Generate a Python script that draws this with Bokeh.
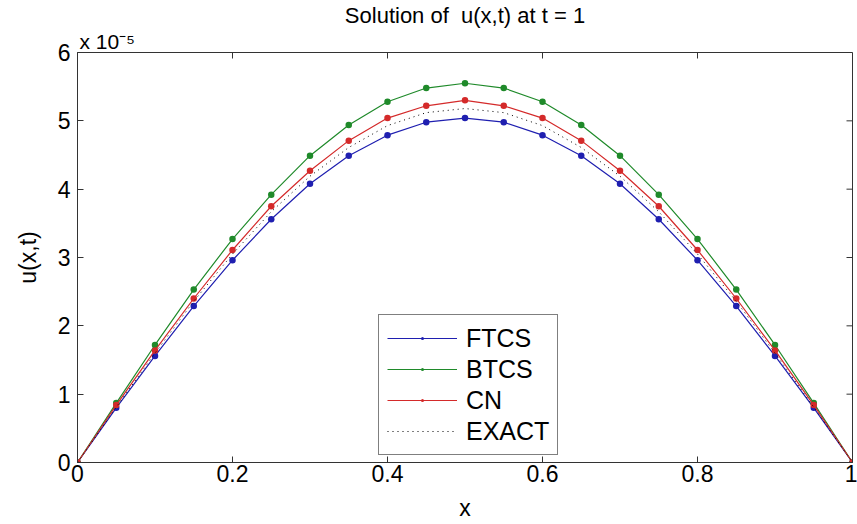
import math
from bokeh.plotting import figure
from bokeh.models import (Range1d, FixedTicker, Legend, LegendItem, Title)
from bokeh.embed import file_html
from bokeh.resources import INLINE

# x positions and solutions (values in units of 1e-5)
x_vals = [0.0, 0.05, 0.1, 0.15, 0.2, 0.25, 0.3, 0.35, 0.4, 0.45, 0.5,
          0.55, 0.6, 0.65, 0.7, 0.75, 0.8, 0.85, 0.9, 0.95, 1.0]
ftcs = [0.0, 0.80, 1.56, 2.29, 2.96, 3.56, 4.08, 4.49, 4.79, 4.98, 5.04,
        4.98, 4.79, 4.49, 4.08, 3.56, 2.96, 2.29, 1.56, 0.80, 0.0]
btcs = [0.0, 0.87, 1.72, 2.53, 3.27, 3.92, 4.49, 4.94, 5.28, 5.48, 5.55,
        5.48, 5.28, 4.94, 4.49, 3.92, 3.27, 2.53, 1.72, 0.87, 0.0]
cn = [0.0, 0.84, 1.64, 2.40, 3.11, 3.75, 4.27, 4.71, 5.04, 5.22, 5.30,
      5.22, 5.04, 4.71, 4.27, 3.75, 3.11, 2.40, 1.64, 0.84, 0.0]
exact = [0.0, 0.81, 1.60, 2.36, 3.05, 3.67, 4.19, 4.61, 4.93, 5.12, 5.18,
         5.12, 4.93, 4.61, 4.19, 3.67, 3.05, 2.36, 1.60, 0.81, 0.0]
x_ticks = [0, 0.2, 0.4, 0.6, 0.8, 1]
y_ticks = [0, 1, 2, 3, 4, 5, 6]
X_MIN, X_MAX, Y_MIN, Y_MAX = 0, 1, 0, 6

FONT = "Liberation Sans"
AX = "#333333"

p = figure(width=857, height=524, output_backend="svg", toolbar_location=None,
           x_range=Range1d(X_MIN, X_MAX), y_range=Range1d(Y_MIN, Y_MAX),
           min_border_left=77, min_border_right=5, min_border_top=46,
           min_border_bottom=62, title="Solution of\u00a0 u(x,t) at t = 1")
p.background_fill_color = "white"
p.border_fill_color = "white"
p.outline_line_color = AX
p.xgrid.visible = False
p.ygrid.visible = False

p.title.align = "center"
p.title.text_font = FONT
p.title.text_font_size = "22px"
p.title.text_font_style = "normal"
p.title.text_color = "black"
p.title.standoff = 0

# multiplier shown at top-left of the axes
mult = Title(text="x 10\u207b\u2075", align="left", text_font=FONT,
             text_font_size="21px", text_font_style="normal",
             text_color="black", offset=2, standoff=0)
p.add_layout(mult, "above")

def style_axis(ax, ticks):
    ax.ticker = FixedTicker(ticks=ticks)
    ax.major_tick_in = 6
    ax.major_tick_out = 0
    ax.minor_tick_line_color = None
    ax.axis_line_color = AX
    ax.major_tick_line_color = AX
    ax.major_label_text_font = FONT
    ax.major_label_text_font_size = "23px"
    ax.major_label_text_color = "black"
    ax.axis_label_text_font = FONT
    ax.axis_label_text_font_size = "23px"
    ax.axis_label_text_font_style = "normal"
    ax.axis_label_text_color = "black"

style_axis(p.xaxis[0], x_ticks)
style_axis(p.yaxis[0], y_ticks)
p.xaxis[0].axis_label = "x"
p.xaxis[0].major_label_standoff = 2
p.xaxis[0].axis_label_standoff = 10
p.yaxis[0].axis_label = "u(x,t)"
p.yaxis[0].major_label_standoff = 7
p.yaxis[0].axis_label_standoff = 14

# inward ticks on the top and right edges of the box
p.ray(x=x_ticks, y=[Y_MAX] * len(x_ticks), length=6, length_units="screen",
      angle=-math.pi / 2, line_color=AX, line_width=1)
p.ray(x=[X_MAX] * len(y_ticks), y=y_ticks, length=6, length_units="screen",
      angle=math.pi, line_color=AX, line_width=1)

colors = {"FTCS": "#1f1fb0", "BTCS": "#1f8a2a", "CN": "#d42a2a"}
items = []
for name, ys in (("FTCS", ftcs), ("BTCS", btcs), ("CN", cn)):
    c = colors[name]
    lr = p.line(x_vals, ys, line_color=c, line_width=1.2)
    sr = p.scatter(x_vals, ys, marker="dot", size=26, line_color=c,
                   fill_color=c, line_width=1.5)
    items.append(LegendItem(label=name, renderers=[lr, sr]))
er = p.line(x_vals, exact, line_color="black", line_width=1, line_dash="1 4")
items.append(LegendItem(label="EXACT", renderers=[er]))

legend = Legend(items=items, location=(301, 7))
legend.label_text_font = FONT
legend.label_text_font_size = "25px"
legend.label_text_color = "black"
legend.glyph_width = 70
legend.glyph_height = 30
legend.label_height = 30
legend.spacing = 1
legend.padding = 8
legend.margin = 0
legend.label_standoff = 9
legend.border_line_color = "black"
legend.border_line_width = 1
legend.background_fill_alpha = 1
p.add_layout(legend, "center")

open("out.html", "w").write(file_html(p, INLINE))
